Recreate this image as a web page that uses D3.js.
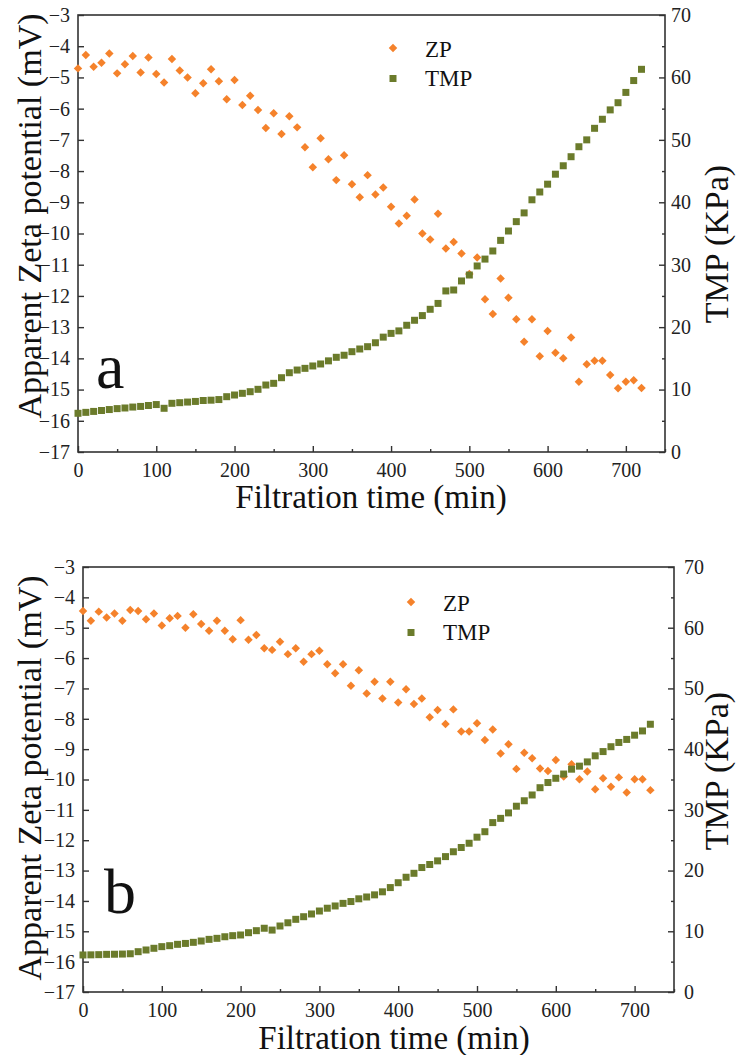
<!DOCTYPE html>
<html>
<head>
<meta charset="utf-8">
<script src="https://cdn.jsdelivr.net/npm/d3@7"></script>
<style>
  body { margin: 0; background: #fff; }
</style>
</head>
<body>
<script>
// sampling times (min), shared by both panels
const times = [0, 10, 20, 30, 40, 50, 60, 70, 80, 90, 100, 110, 120, 130, 140, 150, 160, 170, 180, 190,
  200, 210, 220, 230, 240, 250, 260, 270, 280, 290, 300, 310, 320, 330, 340, 350, 360, 370, 380, 390,
  400, 410, 420, 430, 440, 450, 460, 470, 480, 490, 500, 510, 520, 530, 540, 550, 560, 570, 580, 590,
  600, 610, 620, 630, 640, 650, 660, 670, 680, 690, 700, 710, 720];

// panel a
const zpA = [-4.71, -4.28, -4.66, -4.53, -4.23, -4.87, -4.58, -4.31, -4.84, -4.36, -4.89, -5.16, -4.41, -4.78,
  -5.00, -5.51, -5.19, -4.74, -5.12, -5.70, -5.08, -5.88, -5.59, -6.04, -6.62, -6.15, -6.81, -6.24, -6.60,
  -7.24, -7.88, -6.95, -7.62, -8.29, -7.49, -8.42, -8.84, -8.13, -8.75, -8.53, -9.14, -9.68, -9.43, -8.91,
  -10.00, -10.19, -9.37, -10.48, -10.27, -10.64, -11.30, -10.77, -12.11, -12.58, -11.44, -12.06, -12.75,
  -13.47, -12.75, -13.93, -13.12, -13.82, -14.00, -13.33, -14.75, -14.19, -14.08, -14.08, -14.53, -14.96,
  -14.75, -14.70, -14.95];
const tmpA = [6.2, 6.35, 6.5, 6.65, 6.8, 6.95, 7.05, 7.2, 7.3, 7.45, 7.6, 7.0, 7.8, 7.9, 8.0, 8.1, 8.25, 8.3,
  8.4, 8.86, 9.13, 9.4, 9.66, 10.04, 10.73, 11.0, 11.9, 12.7, 13.13, 13.4, 13.78, 14.1, 14.6, 15.17, 15.5,
  16.07, 16.5, 16.87, 17.5, 18.4, 19.0, 19.4, 20.3, 21.1, 21.85, 22.86, 23.8, 25.8, 25.95, 27.4, 28.35, 29.8,
  30.9, 32.2, 33.9, 35.4, 36.9, 38.3, 40.4, 41.65, 42.9, 44.5, 45.85, 47.3, 48.9, 50.0, 51.85, 53.3, 54.8,
  55.95, 57.6, 59.5, 61.3];

// panel b
const zpB = [-4.45, -4.77, -4.47, -4.66, -4.53, -4.77, -4.42, -4.45, -4.72, -4.53, -4.93, -4.69, -4.61, -5.0,
  -4.56, -4.88, -5.1, -4.77, -5.1, -5.38, -4.75, -5.4, -5.24, -5.68, -5.73, -5.46, -5.87, -5.68, -6.12, -5.87,
  -5.76, -6.2, -6.5, -6.2, -6.91, -6.4, -7.17, -6.78, -7.33, -6.78, -7.46, -7.03, -7.51, -7.33, -7.95, -7.71,
  -8.17, -7.69, -8.42, -8.42, -8.15, -8.7, -8.35, -9.14, -8.84, -9.65, -9.12, -9.3, -9.64, -9.72, -9.36, -9.9,
  -9.5, -9.99, -9.74, -10.32, -9.96, -10.24, -9.93, -10.43, -9.99, -9.99, -10.35];
const tmpB = [6.1, 6.12, 6.15, 6.2, 6.22, 6.25, 6.3, 6.64, 6.92, 7.2, 7.47, 7.63, 7.85, 8.0, 8.18, 8.4, 8.67,
  8.84, 9.1, 9.28, 9.39, 9.77, 10.1, 10.5, 10.2, 10.87, 11.4, 11.97, 12.4, 12.85, 13.34, 13.8, 14.17, 14.6,
  14.9, 15.35, 15.65, 16.0, 16.5, 17.2, 18.0, 18.9, 19.55, 20.5, 21.0, 21.6, 22.3, 23.1, 23.8, 24.5, 25.5,
  26.4, 27.9, 28.6, 29.5, 30.6, 31.5, 32.45, 33.65, 34.5, 35.2, 35.9, 36.7, 37.2, 37.9, 38.9, 39.6, 40.4,
  41.1, 41.6, 42.3, 43.0, 44.1];

// ticks
const xTicks = [0, 100, 200, 300, 400, 500, 600, 700];
const xMinor = [50, 150, 250, 350, 450, 550, 650, 750];
const zpTicks = [-3, -4, -5, -6, -7, -8, -9, -10, -11, -12, -13, -14, -15, -16, -17];
const tmpTicks = [0, 10, 20, 30, 40, 50, 60, 70];
const tmpMinor = [5, 15, 25, 35, 45, 55, 65];
const seriesNames = ["ZP", "TMP"];

const orange = "#f5822b";
const olive = "#6b7b2b";
const axisColor = "#333";
const serif = "'Liberation Serif'";

const svg = d3.select("body").append("svg")
  .attr("width", 736)
  .attr("height", 1055);

function styleAxis(sel) {
  sel.attr("font-family", null);
  sel.select(".domain").remove();
  sel.selectAll("line").attr("stroke", axisColor).attr("stroke-width", 1.4);
  sel.selectAll("text")
    .style("font-family", serif)
    .style("font-size", "20px")
    .attr("fill", "#222");
}

function label(g, txt, size) {
  return g.append("text")
    .style("font-family", serif)
    .style("font-size", size + "px")
    .attr("fill", "#111")
    .text(txt);
}

function drawPanel(p) {
  const x = d3.scaleLinear().domain([0, 750]).range([p.left, p.right]);
  const yL = d3.scaleLinear().domain([-17, -3]).range([p.bottom, p.top]);
  const yR = d3.scaleLinear().domain([0, 70]).range([p.bottom, p.top]);
  const g = svg.append("g");

  // axes (ticks point inward)
  g.append("g").attr("transform", `translate(0,${p.bottom})`)
    .call(d3.axisBottom(x).tickValues(xTicks).tickSize(-6).tickPadding(p.xPad)).call(styleAxis);
  g.append("g").attr("transform", `translate(0,${p.bottom})`)
    .call(d3.axisBottom(x).tickValues(xMinor).tickSize(-3).tickFormat("")).call(styleAxis);
  g.append("g").attr("transform", `translate(${p.left},0)`)
    .call(d3.axisLeft(yL).tickValues(zpTicks).tickSize(-6).tickPadding(8)).call(styleAxis);
  g.append("g").attr("transform", `translate(${p.right},0)`)
    .call(d3.axisRight(yR).tickValues(tmpTicks).tickSize(-6).tickPadding(p.rPad)).call(styleAxis);
  g.append("g").attr("transform", `translate(${p.right},0)`)
    .call(d3.axisRight(yR).tickValues(tmpMinor).tickSize(-3).tickFormat("")).call(styleAxis);

  g.append("rect")
    .attr("x", p.left).attr("y", p.top)
    .attr("width", p.right - p.left).attr("height", p.bottom - p.top)
    .attr("fill", "none").attr("stroke", axisColor).attr("stroke-width", 1.6);

  const diamond = d3.symbol().type(d3.symbolSquare).size(36);
  const square = d3.symbol().type(d3.symbolSquare).size(49);

  g.append("g").selectAll("path")
    .data(times.map((t, i) => [t, p.zp[i]]))
    .join("path")
    .attr("d", diamond)
    .attr("transform", d => `translate(${x(d[0])},${yL(d[1])}) rotate(45)`)
    .attr("fill", orange);

  g.append("g").selectAll("path")
    .data(times.map((t, i) => [t, p.tmp[i]]))
    .join("path")
    .attr("d", square)
    .attr("transform", d => `translate(${x(d[0])},${yR(d[1])})`)
    .attr("fill", olive);

  // legend
  const lg = g.append("g");
  lg.append("path").attr("d", diamond)
    .attr("transform", `translate(${p.legX},${p.legY}) rotate(45)`).attr("fill", orange);
  lg.append("path").attr("d", square)
    .attr("transform", `translate(${p.legX},${p.legY + 30.5})`).attr("fill", olive);
  seriesNames.forEach((name, i) => {
    label(lg, name, 23)
      .attr("x", p.legX + 32)
      .attr("y", p.legY + 8.5 + i * 29);
  });

  // titles
  label(g, "Filtration time (min)", 33)
    .attr("x", p.xTitleX).attr("y", p.xTitleY)
    .attr("text-anchor", "middle");
  label(g, "Apparent Zeta potential (mV)", 34)
    .attr("transform", `translate(41,${p.yTitleY}) rotate(-90)`)
    .attr("text-anchor", "middle");
  label(g, "TMP (KPa)", 34)
    .attr("transform", `translate(728,${p.rTitleY}) rotate(-90)`)
    .attr("text-anchor", "middle");

  label(g, p.tag, 64)
    .attr("x", p.tagX).attr("y", p.tagY);
}

drawPanel({
  left: 78, right: 665, top: 15, bottom: 452, rPad: 6, xPad: 11,
  zp: zpA, tmp: tmpA,
  legX: 393, legY: 48,
  xTitleX: 371, xTitleY: 508,
  yTitleY: 216, rTitleY: 244,
  tag: "a", tagX: 96, tagY: 388
});

drawPanel({
  left: 83, right: 674, top: 567, bottom: 992, rPad: 10, xPad: 11,
  zp: zpB, tmp: tmpB,
  legX: 411, legY: 602,
  xTitleX: 394, xTitleY: 1049,
  yTitleY: 778, rTitleY: 771,
  tag: "b", tagX: 104, tagY: 913
});
</script>
</body>
</html>
